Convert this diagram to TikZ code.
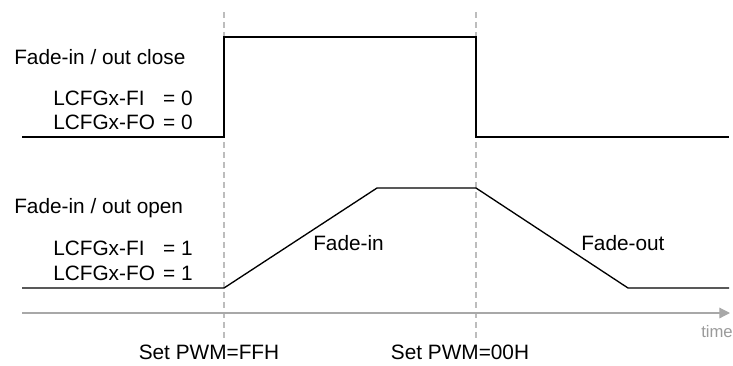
\documentclass[tikz,border=0pt]{standalone}
\usepackage{fontspec}
\setmainfont{Liberation Sans}
\usetikzlibrary{arrows.meta}
\definecolor{dashgray}{HTML}{BDBDBD}
\definecolor{axisgray}{HTML}{A8A8A8}
\definecolor{timegray}{HTML}{9A9A9A}
\begin{document}
\begin{tikzpicture}[x=0.75pt,y=-0.75pt,
  wave/.style={black,line width=1pt},
  guide/.style={dashgray,line width=0.9pt,dash pattern=on 4.5pt off 3pt},
  axis/.style={axisgray,line width=0.9pt,-{Triangle[length=8pt,width=8pt]}},
  lbl/.style={inner sep=0pt,font=\fontsize{15.6}{18}\selectfont},
]
\useasboundingbox (0,0) rectangle (733,365);
% guides
\coordinate (g1t) at (224,12);
\coordinate (g1b) at (224,340);
\coordinate (g2t) at (476,12);
\coordinate (g2b) at (476,340);
\draw[guide] (g1t) -- (g1b);
\draw[guide] (g2t) -- (g2b);
% time axis
\coordinate (ax0) at (22,313);
\coordinate (ax1) at (730,313);
\draw[axis] (ax0) -- (ax1);
\node[lbl,anchor=east,text=timegray,font=\fontsize{12.5}{14}\selectfont] (time) at (733,332) {time};
% top waveform
\coordinate (a0) at (22,137);
\coordinate (a1) at (224,137);
\coordinate (a2) at (224,37);
\coordinate (a3) at (476,37);
\coordinate (a4) at (476,137);
\coordinate (a5) at (729,137);
\draw[wave] (a0) -- (a1) -- (a2) -- (a3) -- (a4) -- (a5);
% bottom waveform
\coordinate (b0) at (22,288);
\coordinate (b1) at (224,288);
\coordinate (b2) at (377,188);
\coordinate (b3) at (476,188);
\coordinate (b4) at (628,288);
\coordinate (b5) at (729,288);
\draw[wave] (b0) -- (b1) -- (b2) -- (b3) -- (b4) -- (b5);
% left labels
\node[lbl,anchor=west] (close) at (14,57) {Fade-in / out close};
\node[lbl,anchor=west] (fi0) at (53,98) {LCFGx-FI};
\node[lbl,anchor=east] (fi0v) at (193,98) {= 0};
\node[lbl,anchor=west] (fo0) at (53,122) {LCFGx-FO};
\node[lbl,anchor=east] (fo0v) at (193,122) {= 0};
\node[lbl,anchor=west] (open) at (14,208) {Fade-in / out open};
\node[lbl,anchor=west] (fi1) at (53,248) {LCFGx-FI};
\node[lbl,anchor=east] (fi1v) at (193,248) {= 1};
\node[lbl,anchor=west] (fo1) at (53,273) {LCFGx-FO};
\node[lbl,anchor=east] (fo1v) at (193,273) {= 1};
% ramp labels
\node[lbl,anchor=west] (fadein) at (313,243) {Fade-in};
\node[lbl,anchor=west] (fadeout) at (581,243) {Fade-out};
% bottom labels
\node[lbl] (setff) at (209,352) {Set PWM=FFH};
\node[lbl] (set00) at (460,352) {Set PWM=00H};
\end{tikzpicture}
\end{document}
